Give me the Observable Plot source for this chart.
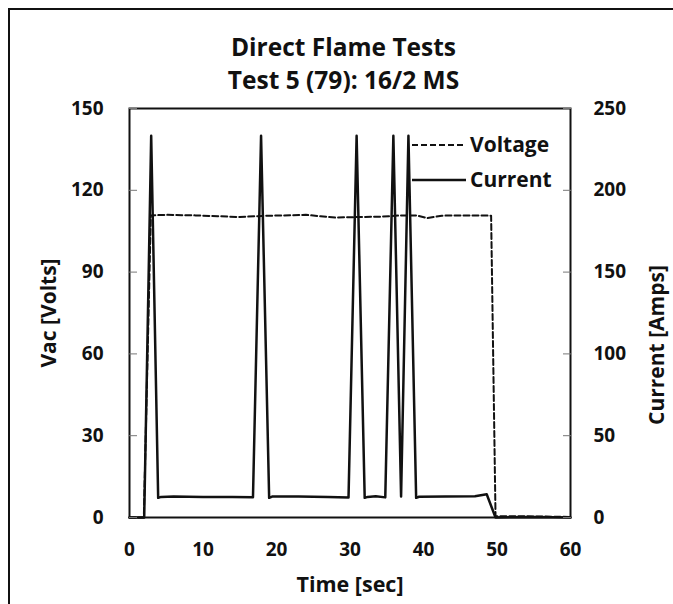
<!DOCTYPE html>
<html>
<head>
<meta charset="utf-8">
<script src="https://cdn.jsdelivr.net/npm/d3@7"></script>
<script src="https://cdn.jsdelivr.net/npm/@observablehq/plot@0.6"></script>
<style>
  html, body { margin: 0; padding: 0; background: #fff; }
  body { width: 673px; height: 604px; overflow: hidden; position: relative; font-family: "Open Sans", Lato, sans-serif; color: #111; }
  #border { position: absolute; left: 8px; top: 8px; width: 680px; height: 620px; border: 2px solid #111; box-sizing: border-box; }
  #title { position: absolute; left: 7px; top: 0; width: 673px; height: 95px; text-align: center; font-weight: bold; font-size: 24.5px; }
  #title .l1 { position: absolute; left: 0; width: 673px; top: 30px; }
  #title .l2 { position: absolute; left: 0; width: 673px; top: 63px; }
  #chart { position: absolute; left: 0; top: 95px; }
  #legend { position: absolute; left: 0; top: 0; }
</style>
</head>
<body>
<div id="border"></div>
<div id="title"><div class="l1" id="t1"></div><div class="l2" id="t2"></div></div>
<div id="chart"></div>
<svg id="legend" width="673" height="604"></svg>
<script>
// Data
const currentTime = [0, 2.0, 2.95, 3.9, 4.3, 6, 10, 14, 16.8, 17.9, 19.0, 19.4, 23, 27, 29.8, 30.9, 32.0, 32.4, 33.5, 34.8, 35.9, 36.95, 37.95, 39.0, 39.4, 43, 47, 48.6, 49.8, 55, 60];
const currentAmps = [0, 0, 233.3, 12.0, 12.6, 12.8, 12.6, 12.5, 12.4, 233.3, 12.0, 12.8, 12.8, 12.6, 12.3, 233.3, 12.0, 12.6, 13.0, 12.3, 233.3, 12.8, 233.3, 12.0, 12.7, 12.8, 13.0, 14.2, 0, 0.3, 0];
const voltTime = [0, 1.95, 2.9, 5, 9, 12, 15, 18, 21, 24, 26, 28, 31, 34, 37, 39, 40.5, 42.5, 46, 49.2, 49.8, 55, 60];
const voltValues = [0, 0, 110.8, 111, 110.8, 110.5, 110.2, 110.6, 110.8, 111, 110.5, 110, 110.2, 110.3, 110.8, 110.8, 109.8, 110.7, 110.8, 110.7, 0.5, 0.4, 0.2];

const xTicks = [0, 10, 20, 30, 40, 50, 60];
const voltTicks = [0, 30, 60, 90, 120, 150];
const ampTicks = [0, 50, 100, 150, 200, 250];

const title = "Direct Flame Tests";
const subtitle = "Test 5 (79): 16/2 MS";
const xLabel = "Time [sec]";
const yLabel = "Vac [Volts]";
const y2Label = "Current [Amps]";
const seriesNames = ["Voltage", "Current"];

document.getElementById("t1").textContent = title;
document.getElementById("t2").textContent = subtitle;

const ampToVolt = 150 / 250; // right axis 0–250 A maps to left axis 0–150 V

const current = currentTime.map((t, i) => ({t, a: currentAmps[i]}));
const voltage = voltTime.map((t, i) => ({t, v: voltValues[i]}));

const font = "'Open Sans', Lato, sans-serif";

const chart = Plot.plot({
  width: 673,
  height: 509,
  marginTop: 13,
  marginBottom: 87,
  marginLeft: 129,
  marginRight: 103,
  style: {fontFamily: font, fontSize: "19px", fontWeight: "bold", color: "#111", background: "transparent"},
  x: {domain: [0, 60], ticks: xTicks},
  y: {domain: [0, 150]},
  marks: [
    Plot.line(voltage, {x: "t", y: "v", stroke: "#111", strokeWidth: 2, strokeDasharray: "6,3"}),
    Plot.line(current, {x: "t", y: d => d.a * ampToVolt, stroke: "#111", strokeWidth: 2.5, strokeLinejoin: "round"}),
    Plot.frame({stroke: "#111", strokeWidth: 2}),
    Plot.axisX({ticks: xTicks, tickSize: 0, tickPadding: 3, dy: 22, label: null, fontSize: 19, lineAnchor: "top"}),
    Plot.axisY({ticks: voltTicks, tickSize: -8, text: null, label: null, stroke: "#777"}),
    Plot.axisY({ticks: voltTicks, tickSize: 0, tickPadding: 26, label: null, fontSize: 19}),
    Plot.axisY({anchor: "right", ticks: voltTicks, tickSize: -8, text: null, label: null, stroke: "#777"}),
    Plot.axisY({anchor: "right", ticks: ampTicks.map(a => a * ampToVolt), tickSize: 0, tickPadding: 23, tickFormat: d => String(Math.round(d / ampToVolt)), label: null, fontSize: 19}),
    Plot.text([xLabel], {frameAnchor: "bottom", dy: 68, fontSize: 21.5, fontWeight: "bold", textAnchor: "middle", lineAnchor: "middle"}),
    Plot.text([yLabel], {frameAnchor: "left", dx: -80, rotate: -90, fontSize: 21, fontWeight: "bold", textAnchor: "middle", lineAnchor: "middle"}),
    Plot.text([y2Label], {frameAnchor: "right", dx: 87, dy: 32, rotate: -90, fontSize: 21, fontWeight: "bold", textAnchor: "middle", lineAnchor: "middle"})
  ]
});
document.getElementById("chart").appendChild(chart);

// Legend (top right inside the plot area)
const lg = d3.select("#legend");
const rows = [{name: seriesNames[0], dash: "6,3", y: 145}, {name: seriesNames[1], dash: null, y: 180}];
rows.forEach(r => {
  lg.append("line").attr("x1", 412).attr("x2", 466).attr("y1", r.y).attr("y2", r.y)
    .attr("stroke", "#111").attr("stroke-width", r.dash ? 2 : 2.3).attr("stroke-dasharray", r.dash);
  lg.append("text").attr("x", 470).attr("y", r.y).attr("dy", "0.35em")
    .attr("font-family", font).attr("font-weight", "bold").attr("font-size", 21).attr("fill", "#111").text(r.name);
});
</script>
</body>
</html>
